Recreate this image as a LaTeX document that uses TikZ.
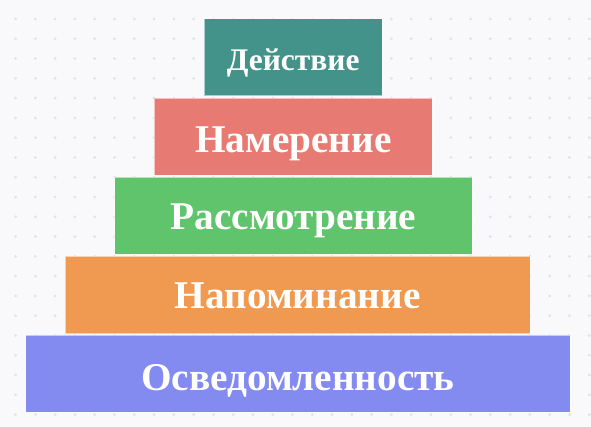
\documentclass[tikz,border=0pt]{standalone}
\usepackage{fontspec}
\setmainfont{Liberation Serif}
\definecolor{bgc}{HTML}{F9F9FB}
\definecolor{dotc}{HTML}{E1E1E6}
\definecolor{cact}{HTML}{43938A}
\definecolor{cint}{HTML}{E77B74}
\definecolor{ccon}{HTML}{5FC46B}
\definecolor{crem}{HTML}{EF9A50}
\definecolor{caw}{HTML}{838AF0}
\tikzset{
  tier/.style={rectangle, inner sep=0pt, outer sep=0pt, minimum height=77pt, draw=white, draw opacity=0.55, line width=0.9pt},
  lbl/.style={anchor=base, inner sep=0pt, text=white, font=\bfseries\fontsize{39.3}{43}\selectfont},
  lblsmall/.style={anchor=base, inner sep=0pt, text=white, font=\bfseries\fontsize{31.5}{35}\selectfont}
}
\begin{document}
\begin{tikzpicture}[x=1pt, y=-1pt]
\fill[bgc] (0,0) rectangle (591,427);
\useasboundingbox (0,0) rectangle (591,427);
\foreach \i in {0,...,29}{
  \foreach \j in {0,...,20}{
    \fill[dotc] ({15.6+19.78*\i},{19+19.78*\j}) circle (1.5pt);
  }
}
\node[tier, fill=cact, minimum width=178pt] (act) at (293.2,57.3) {};
\node[tier, fill=cint, minimum width=278pt] (int) at (293.3,136.6) {};
\node[tier, fill=ccon, minimum width=357.6pt] (con) at (293.5,215.5) {};
\node[tier, fill=crem, minimum width=464.7pt] (rem) at (297.7,295) {};
\node[tier, fill=caw, minimum width=544.3pt] (aw) at (297.9,373.7) {};
\node[lblsmall] (tact) at ([yshift=-13.4pt]act.center) {Действие};
\node[lbl] (tint) at ([yshift=-16pt]int.center) {Намерение};
\node[lbl] (tcon) at ([yshift=-14.5pt]con.center) {Рассмотрение};
\node[lbl] (trem) at ([yshift=-13.3pt]rem.center) {Напоминание};
\node[lbl] (taw) at ([yshift=-16.3pt]aw.center) {Осведомленность};
\end{tikzpicture}
\end{document}
